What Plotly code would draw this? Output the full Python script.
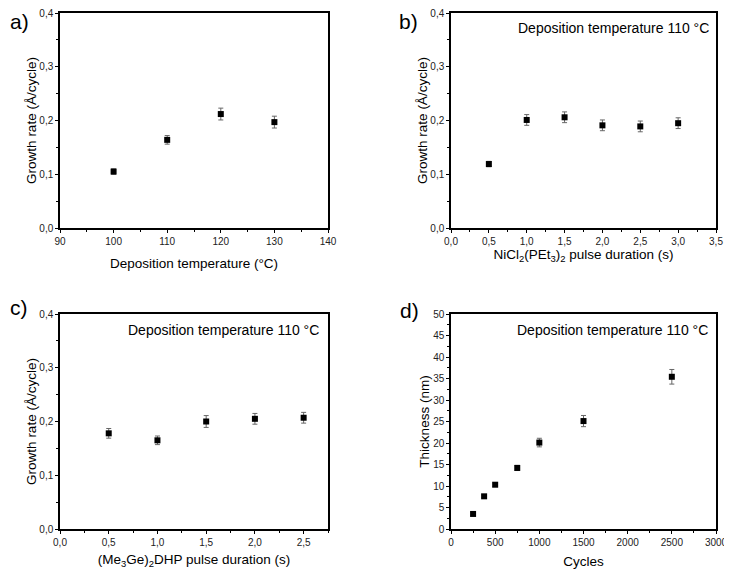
import plotly.graph_objects as go

# Panel a
temp_a = [100, 110, 120, 130]
rate_a = [0.105, 0.164, 0.212, 0.197]
err_a = [0.005, 0.008, 0.011, 0.011]

# Panel b
pulse_b = [0.5, 1.0, 1.5, 2.0, 2.5, 3.0]
rate_b = [0.119, 0.201, 0.206, 0.191, 0.189, 0.195]
err_b = [0.005, 0.010, 0.010, 0.010, 0.010, 0.010]

# Panel c
pulse_c = [0.5, 1.0, 1.5, 2.0, 2.5]
rate_c = [0.178, 0.165, 0.200, 0.205, 0.207]
err_c = [0.009, 0.008, 0.011, 0.010, 0.010]

# Panel d
cycles_d = [250, 375, 500, 750, 1000, 1500, 2500]
thick_d = [3.5, 7.6, 10.3, 14.2, 20.1, 25.1, 35.4]
err_d = [0.3, 0.3, 0.4, 0.6, 1.0, 1.3, 1.7]

OFF = 8  # page body margin
W, H = 732 - OFF, 569 - OFF

def fx(p):
    return max(0.0, (p - OFF) / W)
def fy(p):
    return min(1.0, 1 - (p - OFF) / H)
def px(x0, x1):
    return [fx(x0), fx(x1)]
def py(top, bottom):
    return [fy(bottom), fy(top)]

fig = go.Figure()
marker = dict(symbol="square", size=6, color="black")
errstyle = lambda e: dict(type="data", array=e, visible=True, color="#666666", thickness=1, width=2.5)

fig.add_trace(go.Scatter(x=temp_a, y=rate_a, mode="markers", marker=marker, error_y=errstyle(err_a), xaxis="x", yaxis="y"))
fig.add_trace(go.Scatter(x=pulse_b, y=rate_b, mode="markers", marker=marker, error_y=errstyle(err_b), xaxis="x2", yaxis="y2"))
fig.add_trace(go.Scatter(x=pulse_c, y=rate_c, mode="markers", marker=marker, error_y=errstyle(err_c), xaxis="x3", yaxis="y3"))
fig.add_trace(go.Scatter(x=cycles_d, y=thick_d, mode="markers", marker=marker, error_y=errstyle(err_d), xaxis="x4", yaxis="y4"))

tickfont = dict(family="Liberation Sans, Arial", size=10, color="#222222")
titlefont = dict(family="Liberation Sans, Arial", size=13.5, color="black")

def common(dom, anchor, rng, dtick, mdtick, title, standoff, fmt, tick0=0):
    return dict(domain=dom, anchor=anchor, range=rng, dtick=dtick, tick0=tick0, tickformat=fmt,
                ticks="outside", ticklen=3, tickwidth=1, tickcolor="black",
                minor=dict(dtick=mdtick, tick0=tick0, ticks="outside", ticklen=2, tickcolor="black"),
                showline=True, mirror=True, linecolor="black", linewidth=1.5,
                showgrid=False, zeroline=False, tickfont=tickfont, ticklabeloverflow="allow",
                title=dict(text=title, font=titlefont, standoff=standoff), automargin=False)

RIGHT = 716  # right edge of panels b and d (kept inside the visible window)
ya_title = "Growth rate (Å/cycle)"
fig.update_layout(
    width=W, height=H, margin=dict(l=0, r=0, t=0, b=0),
    paper_bgcolor="white", plot_bgcolor="white", showlegend=False,
    separators=",.",
    xaxis=common(px(60, 328), "y", [90, 140], 10, 5, "Deposition temperature (°C)", 13, "d", tick0=90),
    yaxis=common(py(13, 228), "x", [0, 0.4], 0.1, 0.05, ya_title, 0, ".1f"),
    xaxis2=common(px(451, RIGHT), "y2", [0, 3.5], 0.5, 0.25, "NiCl<sub>2</sub>(PEt<sub>3</sub>)<sub>2</sub> pulse duration (s)", 2, ".1f"),
    yaxis2=common(py(13, 228), "x2", [0, 0.4], 0.1, 0.05, ya_title, 0, ".1f"),
    xaxis3=common(px(60, 328), "y3", [0, 2.75], 0.5, 0.25, "(Me<sub>3</sub>Ge)<sub>2</sub>DHP pulse duration (s)", 8, ".1f"),
    yaxis3=common(py(314, 529), "x3", [0, 0.4], 0.1, 0.05, ya_title, 0, ".1f"),
    xaxis4=common(px(451, RIGHT), "y4", [0, 3000], 500, 250, "Cycles", 10, "d"),
    yaxis4=common(py(314, 529), "x4", [0, 50], 5, 2.5, "Thickness (nm)", 0, "d"),
)

annfont = dict(family="Liberation Sans, Arial", size=14, color="black")
labfont = dict(family="Liberation Sans, Arial", size=21, color="black")
anns = [
    dict(text="a)", x=fx(1), y=1.0, xanchor="left", yanchor="top", font=labfont),
    dict(text="b)", x=fx(397), y=1.0, xanchor="left", yanchor="top", font=labfont),
    dict(text="c)", x=fx(0), y=fy(307), xanchor="left", yanchor="middle", font=labfont),
    dict(text="d)", x=fx(398), y=fy(310), xanchor="left", yanchor="middle", font=labfont),
    dict(text="Deposition temperature 110 °C", x=fx(711), y=fy(28), xanchor="right", yanchor="middle", font=annfont),
    dict(text="Deposition temperature 110 °C", x=fx(321), y=fy(330), xanchor="right", yanchor="middle", font=annfont),
    dict(text="Deposition temperature 110 °C", x=fx(710), y=fy(330), xanchor="right", yanchor="middle", font=annfont),
]
for a in anns:
    a.update(xref="paper", yref="paper", showarrow=False)
fig.update_layout(annotations=anns)

fig.write_html("out.html")
